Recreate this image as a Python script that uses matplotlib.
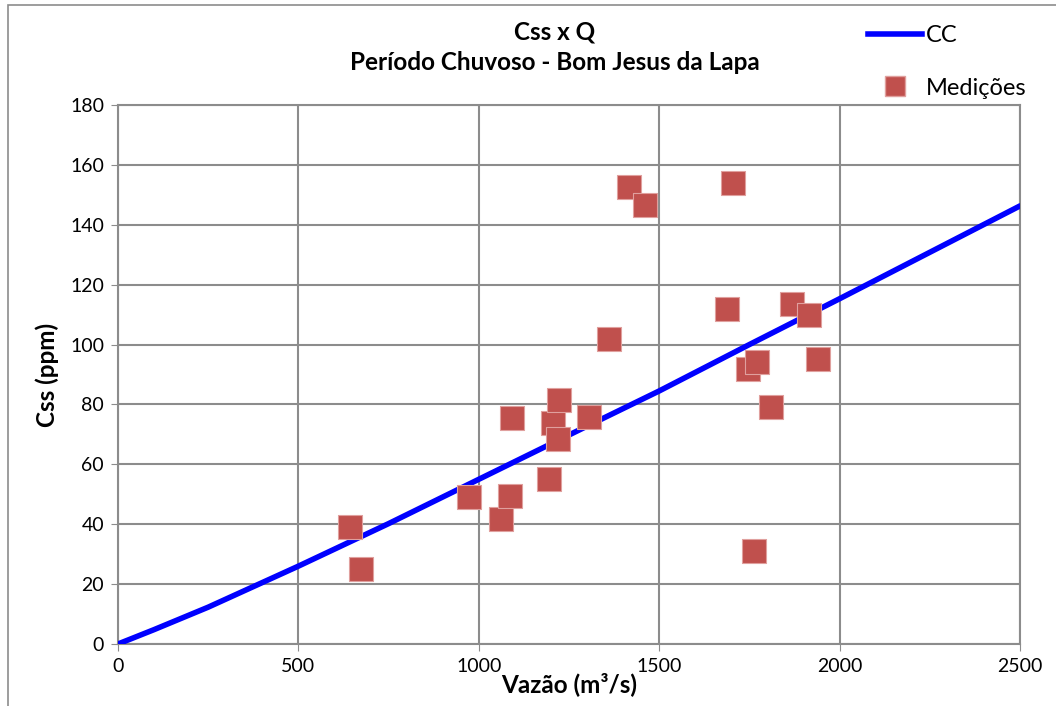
import matplotlib.pyplot as plt
from matplotlib.patches import Rectangle
from matplotlib.lines import Line2D

plt.rcParams['font.family'] = ['Lato', 'DejaVu Sans']

# curva-chave (CC)
q_cc = [0, 100, 250, 500, 750, 1000, 1250, 1500, 1750, 2000, 2250, 2500]
css_cc = [0, 4.8, 12.3, 26, 40.2, 55, 69.8, 84.5, 100, 115.3, 130.8, 146.3]

# medicoes
q_med = [643, 673, 973, 1062, 1086, 1092, 1195, 1205, 1219, 1222, 1305, 1361,
         1416, 1461, 1688, 1705, 1746, 1763, 1771, 1810, 1868, 1916, 1940]
css_med = [39, 25, 49, 41.7, 49.4, 75.5, 55, 73.8, 68.5, 81.5, 75.8, 102,
           152.5, 146.6, 112, 154, 92, 31, 94.2, 79.2, 113.5, 110, 95.2]

fig = plt.figure(figsize=(10.56, 7.06), dpi=100)
ax = fig.add_axes([0.1117, 0.0878, 0.8542, 0.7635])

# moldura externa estilo Excel
fig.patches.append(Rectangle((8/1056, -0.05), 1.1, 1 - 5/706 + 0.05, transform=fig.transFigure,
                             fill=False, edgecolor='#8c8c8c', linewidth=1.2))

ax.plot(q_cc, css_cc, color='#0000FF', linewidth=4, solid_capstyle='round', zorder=3)
ax.scatter(q_med, css_med, marker='s', s=300, color='#C0504D', edgecolor='#E0A09E',
           linewidth=0.8, zorder=4)

ax.set_xlim(0, 2500)
ax.set_ylim(0, 180)
ax.set_xticks(range(0, 2501, 500))
ax.set_yticks(range(0, 181, 20))
ax.grid(True, color='#8c8c8c', linewidth=1.5)
ax.set_axisbelow(True)
for s in ax.spines.values():
    s.set_color('#8c8c8c')
    s.set_linewidth(1.5)
ax.tick_params(direction='out', length=5, color='#8c8c8c', labelsize=14, pad=5)

ax.set_xlabel('Vazão (m³/s)', fontsize=17.5, fontweight='bold', labelpad=-2)
ax.set_ylabel('Css (ppm)', fontsize=17.5, fontweight='bold', labelpad=8)

fig.text(0.525, 0.955, 'Css x Q', ha='center', va='center', fontsize=17.5, fontweight='bold')
fig.text(0.525, 0.912, 'Período Chuvoso - Bom Jesus da Lapa', ha='center', va='center',
         fontsize=17.5, fontweight='bold')

handles = [Line2D([0], [0], color='#0000FF', linewidth=4),
           Line2D([0], [0], marker='s', linestyle='none', markersize=14,
                  markerfacecolor='#C0504D', markeredgecolor='#E0A09E')]
fig.legend(handles, ['CC', 'Medições'], loc='upper left', bbox_to_anchor=(0.802, 0.995),
           frameon=False, fontsize=17, handlelength=2.3, handletextpad=0.15, labelspacing=1.35)

fig.savefig('out.png', dpi=100)
